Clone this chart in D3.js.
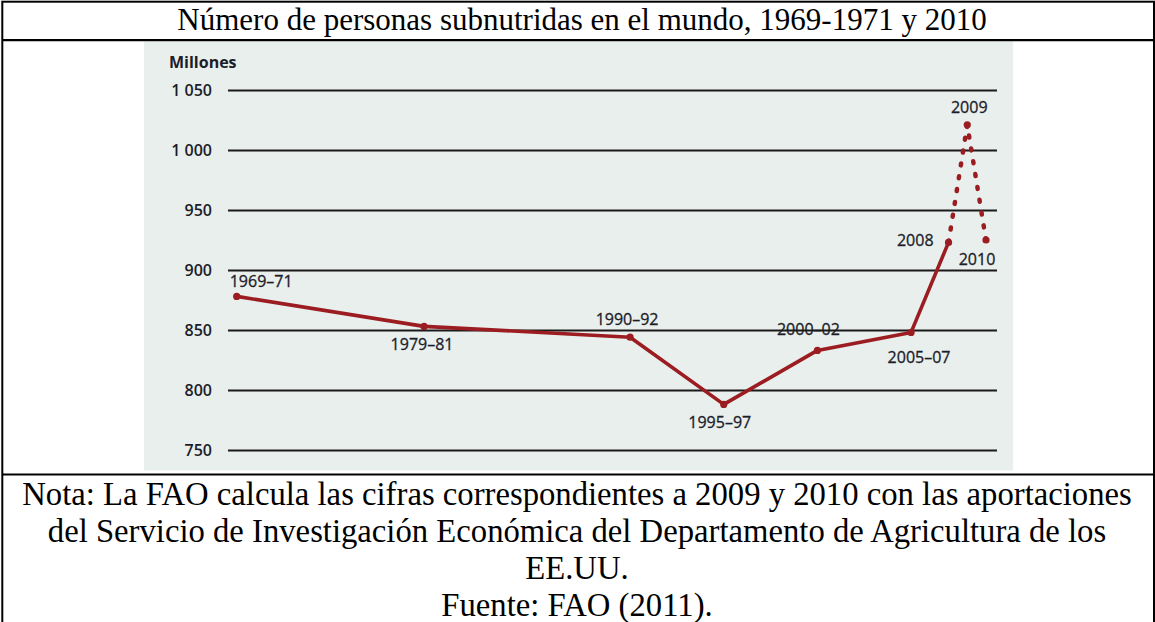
<!DOCTYPE html>
<html>
<head>
<meta charset="utf-8">
<script src="https://cdn.jsdelivr.net/npm/d3@7"></script>
<style>
  body { margin: 0; background: #fff; }
  .serif { font-family: "Liberation Serif", "Times New Roman", serif; fill: #000; }
  .sans { font-family: "Open Sans", "DejaVu Sans", sans-serif; }
</style>
</head>
<body>
<div id="chart"></div>
<script>
// chart data
var periods = ["1969–71", "1979–81", "1990–92", "1995–97", "2000–02", "2005–07", "2008", "2009", "2010"];
var midYears = [1970, 1980, 1991, 1996, 2001, 2006, 2008, 2009, 2010];
var millions = [878, 853, 844, 788, 833, 848, 923, 1021, 925];
var yTicks = [750, 800, 850, 900, 950, 1000, 1050];

var title = "Número de personas subnutridas en el mundo, 1969-1971 y 2010";
var noteLines = [
    "Nota: La FAO calcula las cifras correspondientes a 2009 y 2010 con las aportaciones",
    "del Servicio de Investigación Económica del Departamento de Agricultura de los",
    "EE.UU.",
    "Fuente: FAO (2011)."
];

// where each point label sits relative to its point (layout only)
var labelOffsets = {
    "1969–71": { dx: -7, dy: -9, anchor: "start" },
    "1979–81": { dx: -2, dy: 24, anchor: "middle" },
    "1990–92": { dx: -3, dy: -12, anchor: "middle" },
    "1995–97": { dx: -4, dy: 24, anchor: "middle" },
    "2000–02": { dx: -9, dy: -15, anchor: "middle" },
    "2005–07": { dx: 8, dy: 31, anchor: "middle" },
    "2008": { dx: -15, dy: 4, anchor: "end" },
    "2009": { dx: 2, dy: -12, anchor: "middle" },
    "2010": { dx: -9, dy: 25, anchor: "middle" }
};

var w = 1155;
var h = 622;
var red = "#9b1d21";

var svg = d3.select("#chart")
    .append("svg")
    .attr("width", w)
    .attr("height", h);

// table frame
svg.append("rect")
    .attr("x", 144).attr("y", 41.5)
    .attr("width", 869).attr("height", 429)
    .attr("fill", "#e9efec");

svg.append("rect")
    .attr("x", 2.3).attr("y", 1.7)
    .attr("width", 1151.7).attr("height", 660)
    .attr("fill", "none")
    .attr("stroke", "#000")
    .attr("stroke-width", 2);

[40.2, 474.5].forEach(function (yy) {
    svg.append("line")
        .attr("x1", 2.3).attr("x2", 1154)
        .attr("y1", yy).attr("y2", yy)
        .attr("stroke", "#000")
        .attr("stroke-width", 2.2);
});

svg.append("text")
    .attr("class", "serif")
    .attr("x", 582).attr("y", 30)
    .attr("text-anchor", "middle")
    .style("font-size", "31px")
    .text(title);

svg.selectAll(".note")
    .data(noteLines)
    .enter()
    .append("text")
    .attr("class", "serif note")
    .attr("x", 577)
    .attr("y", (d, i) => 505 + i * 37)
    .attr("text-anchor", "middle")
    .style("font-size", "32.7px")
    .text((d) => d);

// scales
var x = d3.scaleLinear().domain([1970, 2010]).range([236.7, 986]);
var y = d3.scaleLinear().domain([750, 1050]).range([450, 90]);

var gridLeft = 228;
var gridRight = 997;

var points = midYears.map((yr, i) => ({ label: periods[i], x: x(yr), y: y(millions[i]) }));

// point labels (drawn under the gridlines, as in the original)
svg.selectAll(".plabel")
    .data(points)
    .enter()
    .append("text")
    .attr("class", "sans plabel")
    .attr("x", (d) => d.x + labelOffsets[d.label].dx)
    .attr("y", (d) => d.y + labelOffsets[d.label].dy)
    .attr("text-anchor", (d) => labelOffsets[d.label].anchor)
    .style("font-size", "16px")
    .style("fill", "#1c1c2a")
    .style("stroke", "#1c1c2a")
    .style("stroke-width", 0.3)
    .text((d) => d.label);

// y axis with gridlines
var fmt = d3.formatLocale({ decimal: ",", thousands: " ", grouping: [3], currency: ["", ""] }).format(",");

var axis = svg.append("g")
    .attr("class", "sans")
    .attr("transform", "translate(" + gridLeft + ",0)")
    .call(d3.axisLeft(y)
        .tickValues(yTicks)
        .tickSize(-(gridRight - gridLeft))
        .tickPadding(16)
        .tickFormat(fmt));

axis.select(".domain").remove();
axis.selectAll(".tick line")
    .attr("stroke", "#1a1a1a")
    .attr("stroke-width", 1.8);
axis.selectAll(".tick text")
    .style("font-family", "'Open Sans', sans-serif")
    .style("font-size", "16px")
    .style("font-weight", 600)
    .style("fill", "#1c1c2a");

svg.append("text")
    .attr("class", "sans")
    .attr("x", 169).attr("y", 68)
    .style("font-size", "16px")
    .style("font-weight", 700)
    .style("fill", "#1c1c2a")
    .text("Millones");

// the line: solid up to 2008, dotted for the 2009-2010 estimates
var line = d3.line().x((d) => d.x).y((d) => d.y);

svg.append("path")
    .datum(points.slice(0, 7))
    .attr("d", line)
    .attr("fill", "none")
    .attr("stroke", red)
    .attr("stroke-width", 3.6)
    .attr("stroke-linejoin", "round");

svg.append("path")
    .datum(points.slice(6))
    .attr("d", line)
    .attr("fill", "none")
    .attr("stroke", red)
    .attr("stroke-width", 4.5)
    .attr("stroke-linecap", "round")
    .attr("stroke-dasharray", "2,11");

svg.selectAll(".dot")
    .data(points)
    .enter()
    .append("circle")
    .attr("class", "dot")
    .attr("cx", (d) => d.x)
    .attr("cy", (d) => d.y)
    .attr("r", 3.6)
    .attr("fill", red);
</script>
</body>
</html>
